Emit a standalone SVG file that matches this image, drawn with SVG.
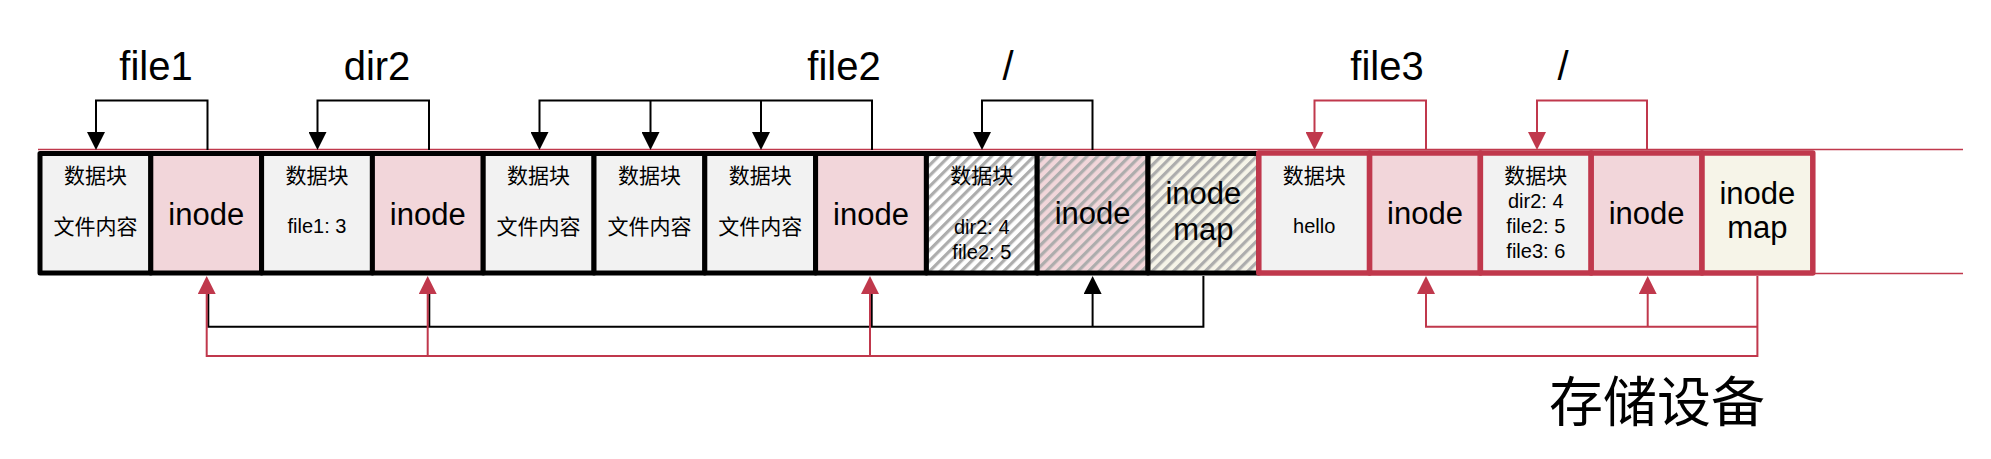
<svg xmlns="http://www.w3.org/2000/svg" width="1991" height="459" viewBox="0 0 1991 459">
<style>
text{font-family:"Liberation Sans",Arial,"Noto Sans CJK SC",sans-serif;fill:#000;text-anchor:middle}
.lbl{font-size:40px}
.in{font-size:31px}
.cj{font-size:21px}
.sm{font-size:20px}
.big{font-size:54px}
.bb{stroke:#000;stroke-width:5;stroke-linejoin:round}
.rb{stroke:#c0384c;stroke-width:5.5;stroke-linejoin:round}
.g{fill:#f2f2f2}
.p{fill:#f2d6da}
.y{fill:#f6f4e8}
.ck{fill:none;stroke:#000;stroke-width:2}
.cr{fill:none;stroke:#c0384c;stroke-width:2}
.rl{fill:none;stroke:#c0384c;stroke-width:1.6}
</style>
<defs>
<pattern id="hW" width="7.5" height="7.5" patternUnits="userSpaceOnUse" patternTransform="rotate(45)"><rect width="7.5" height="7.5" fill="#ffffff"/><rect width="3.2" height="7.5" fill="#adadad"/></pattern>
<pattern id="hP" width="7.5" height="7.5" patternUnits="userSpaceOnUse" patternTransform="rotate(45)"><rect width="7.5" height="7.5" fill="#f2d6da"/><rect width="3.2" height="7.5" fill="#adadad"/></pattern>
<pattern id="hY" width="7.5" height="7.5" patternUnits="userSpaceOnUse" patternTransform="rotate(45)"><rect width="7.5" height="7.5" fill="#f6f4e8"/><rect width="3.2" height="7.5" fill="#adadad"/></pattern>
<marker id="ak" markerUnits="userSpaceOnUse" viewBox="0 0 18 18" markerWidth="18" markerHeight="18" refX="1" refY="9" orient="auto"><path d="M0,0 L18,9 L0,18 z" fill="#000"/></marker>
<marker id="ar" markerUnits="userSpaceOnUse" viewBox="0 0 18 18" markerWidth="18" markerHeight="18" refX="1" refY="9" orient="auto"><path d="M0,0 L18,9 L0,18 z" fill="#c0384c"/></marker>
</defs>
<rect width="1991" height="459" fill="#fff"/>

<g id="rails">
<path class="rl" d="M38,149.5 H1963 M1812,273.5 H1963"/>
</g>

<g id="n0"><rect class="bb g" x="40" y="153.5" width="110.8" height="119.5"/><text class="cj" x="95.4" y="183">数据块</text><text class="cj" x="95.4" y="234">文件内容</text></g>
<g id="n1"><rect class="bb p" x="150.8" y="153.5" width="110.8" height="119.5"/><text class="in" x="206.2" y="225">inode</text></g>
<g id="n2"><rect class="bb g" x="261.6" y="153.5" width="110.8" height="119.5"/><text class="cj" x="317" y="183">数据块</text><text class="sm" x="317" y="233">file1: 3</text></g>
<g id="n3"><rect class="bb p" x="372.4" y="153.5" width="110.8" height="119.5"/><text class="in" x="427.8" y="225">inode</text></g>
<g id="n4"><rect class="bb g" x="483.2" y="153.5" width="110.8" height="119.5"/><text class="cj" x="538.6" y="183">数据块</text><text class="cj" x="538.6" y="234">文件内容</text></g>
<g id="n5"><rect class="bb g" x="594" y="153.5" width="110.8" height="119.5"/><text class="cj" x="649.4" y="183">数据块</text><text class="cj" x="649.4" y="234">文件内容</text></g>
<g id="n6"><rect class="bb g" x="704.8" y="153.5" width="110.8" height="119.5"/><text class="cj" x="760.2" y="183">数据块</text><text class="cj" x="760.2" y="234">文件内容</text></g>
<g id="n7"><rect class="bb p" x="815.6" y="153.5" width="110.8" height="119.5"/><text class="in" x="871" y="225">inode</text></g>
<g id="n8"><rect class="bb" fill="url(#hW)" x="926.4" y="153.5" width="110.8" height="119.5"/><text class="cj" x="981.8" y="183">数据块</text><text class="sm" x="981.8" y="234">dir2: 4</text><text class="sm" x="981.8" y="259">file2: 5</text></g>
<g id="n9"><rect class="bb" fill="url(#hP)" x="1037.2" y="153.5" width="110.8" height="119.5"/><text class="in" x="1092.6" y="224">inode</text></g>
<g id="n10"><rect class="bb" fill="url(#hY)" x="1148" y="153.5" width="110.8" height="119.5"/><text class="in" x="1203.4" y="204">inode</text><text class="in" x="1203.4" y="240">map</text></g>
<g id="n11"><rect class="rb g" x="1258.8" y="153" width="110.8" height="120"/><text class="cj" x="1314.2" y="183">数据块</text><text class="sm" x="1314.2" y="233">hello</text></g>
<g id="n12"><rect class="rb p" x="1369.6" y="153" width="110.8" height="120"/><text class="in" x="1425" y="224">inode</text></g>
<g id="n13"><rect class="rb g" x="1480.4" y="153" width="110.8" height="120"/><text class="cj" x="1535.8" y="183">数据块</text><text class="sm" x="1535.8" y="208">dir2: 4</text><text class="sm" x="1535.8" y="233">file2: 5</text><text class="sm" x="1535.8" y="258">file3: 6</text></g>
<g id="n14"><rect class="rb p" x="1591.2" y="153" width="110.8" height="120"/><text class="in" x="1646.6" y="224">inode</text></g>
<g id="n15"><rect class="rb y" x="1702" y="153" width="110.8" height="120"/><text class="in" x="1757.4" y="204">inode</text><text class="in" x="1757.4" y="238">map</text></g>

<g id="connectors">
<path class="ck" marker-end="url(#ak)" d="M207.5,150 V100.5 H96 V133"/>
<path class="ck" marker-end="url(#ak)" d="M429,150 V100.5 H317.5 V133"/>
<path class="ck" marker-end="url(#ak)" d="M872,150 V100.5 H539.5 V133"/>
<path class="ck" marker-end="url(#ak)" d="M650.5,100.5 V133"/>
<path class="ck" marker-end="url(#ak)" d="M761,100.5 V133"/>
<path class="ck" marker-end="url(#ak)" d="M1092.5,150 V100.5 H982 V133"/>
<path class="cr" marker-end="url(#ar)" d="M1426,150 V100.5 H1314.5 V133"/>
<path class="cr" marker-end="url(#ar)" d="M1647,150 V100.5 H1537 V133"/>

<path class="ck" d="M1203.4,276 V326.7 H208.3 V292"/>
<path class="ck" d="M429.3,326.7 V292"/>
<path class="ck" d="M871.7,326.7 V292"/>
<path class="ck" marker-end="url(#ak)" d="M1092.6,326.7 V293"/>

<path class="cr" marker-end="url(#ar)" d="M1757.4,276 V356 H206.7 V293"/>
<path class="cr" marker-end="url(#ar)" d="M427.7,356 V293"/>
<path class="cr" marker-end="url(#ar)" d="M870,356 V293"/>
<path class="cr" marker-end="url(#ar)" d="M1757.4,326.7 H1426 V293"/>
<path class="cr" marker-end="url(#ar)" d="M1647.7,326.7 V293"/>
</g>

<g id="labels">
<text class="lbl" x="156" y="80">file1</text>
<text class="lbl" x="377" y="80">dir2</text>
<text class="lbl" x="844" y="80">file2</text>
<text class="lbl" x="1008" y="80">/</text>
<text class="lbl" x="1387" y="80">file3</text>
<text class="lbl" x="1563" y="80">/</text>
<text class="big" x="1657" y="422">存储设备</text>
</g>
</svg>
